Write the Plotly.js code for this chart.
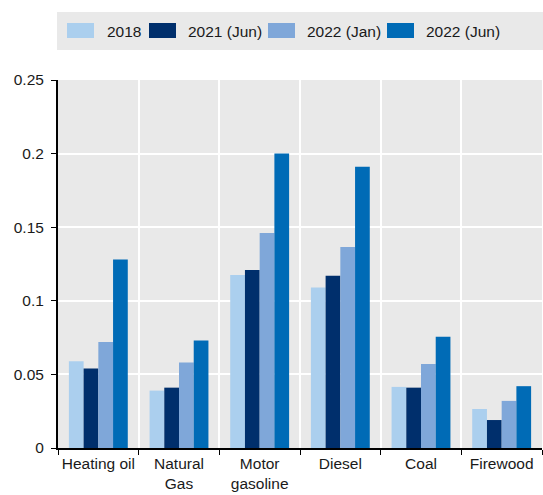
<!DOCTYPE html>
<html>
<head>
<meta charset="utf-8">
<script src="https://cdn.plot.ly/plotly-3.0.1.min.js"></script>
<style>html,body{margin:0;padding:0;background:#fff;}#chart{width:543px;height:495px;}</style>
</head>
<body>
<div id="chart"></div>
<script>
const categories = ["Heating oil", "Natural<br>Gas", "Motor<br>gasoline", "Diesel", "Coal", "Firewood"];
const seriesNames = ["2018", "2021 (Jun)", "2022 (Jan)", "2022 (Jun)"];
const v2018 = [0.059, 0.039, 0.1175, 0.109, 0.0415, 0.0265];
const v2021Jun = [0.054, 0.041, 0.121, 0.117, 0.041, 0.019];
const v2022Jan = [0.072, 0.058, 0.146, 0.1365, 0.057, 0.032];
const v2022Jun = [0.128, 0.073, 0.200, 0.191, 0.0755, 0.042];
const colors = ["#abcfee", "#002f6c", "#7fa7d9", "#006bb6"];
const yTicks = [0, 0.05, 0.1, 0.15, 0.2, 0.25];
const yTickText = ["0", "0.05", "0.1", "0.15", "0.2", "0.25"];

const FONT = "'Liberation Sans', Arial, sans-serif";
const FS = 15.5;
const M = {l: 58, r: 1, t: 80, b: 47};
const W = 543, H = 495;
const pw = W - M.l - M.r, ph = H - M.t - M.b;
const px2x = p => (p - M.l) / pw;
const px2y = p => (H - M.b - p) / ph;

const values = [v2018, v2021Jun, v2022Jan, v2022Jun];
const traces = values.map((v, i) => ({
  type: "bar",
  name: seriesNames[i],
  x: categories,
  y: v,
  marker: {color: colors[i], line: {width: 0}},
  hoverinfo: "none",
  showlegend: false
}));

// custom legend (layout only)
const swatchX = [67, 149, 268, 387];
const textX = [106, 187, 306, 425];
const shapes = [{
  type: "rect", xref: "paper", yref: "paper",
  x0: px2x(57), x1: px2x(543), y0: px2y(50), y1: px2y(12),
  fillcolor: "#e9e9e9", line: {width: 0}, layer: "below"
}];
const annotations = [];
seriesNames.forEach((n, i) => {
  shapes.push({
    type: "rect", xref: "paper", yref: "paper",
    x0: px2x(swatchX[i]), x1: px2x(swatchX[i] + 27),
    y0: px2y(38), y1: px2y(23),
    fillcolor: colors[i], line: {width: 0}
  });
  annotations.push({
    xref: "paper", yref: "paper",
    x: px2x(textX[i] - 1), y: px2y(31),
    xanchor: "left", yanchor: "middle",
    text: n, showarrow: false,
    font: {family: FONT, size: FS, color: "#1a1a1a"}
  });
});

const layout = {
  width: W, height: H,
  margin: M,
  paper_bgcolor: "#ffffff",
  plot_bgcolor: "#e9e9e9",
  font: {family: FONT, size: FS, color: "#1a1a1a"},
  barmode: "group",
  bargap: 0.27,
  bargroupgap: 0,
  showlegend: false,
  shapes: shapes,
  annotations: annotations,
  xaxis: {
    type: "category",
    tickson: "boundaries",
    tickangle: 0,
    ticks: "outside", ticklen: 5, tickcolor: "#000", tickwidth: 1,
    showgrid: true, gridcolor: "#ffffff", gridwidth: 2,
    showline: true, linecolor: "#000", linewidth: 2,
    tickfont: {family: FONT, size: FS, color: "#1a1a1a"},
    fixedrange: true
  },
  yaxis: {
    range: [0, 0.25],
    tickvals: yTicks, ticktext: yTickText,
    ticks: "outside", ticklen: 5, tickcolor: "#000", tickwidth: 1,
    ticklabelstandoff: 4,
    showgrid: true, gridcolor: "#ffffff", gridwidth: 2,
    showline: true, linecolor: "#000", linewidth: 2,
    zeroline: false,
    tickfont: {family: FONT, size: FS, color: "#1a1a1a"},
    fixedrange: true
  }
};

Plotly.newPlot("chart", traces, layout, {displayModeBar: false, staticPlot: true});
</script>
</body>
</html>
